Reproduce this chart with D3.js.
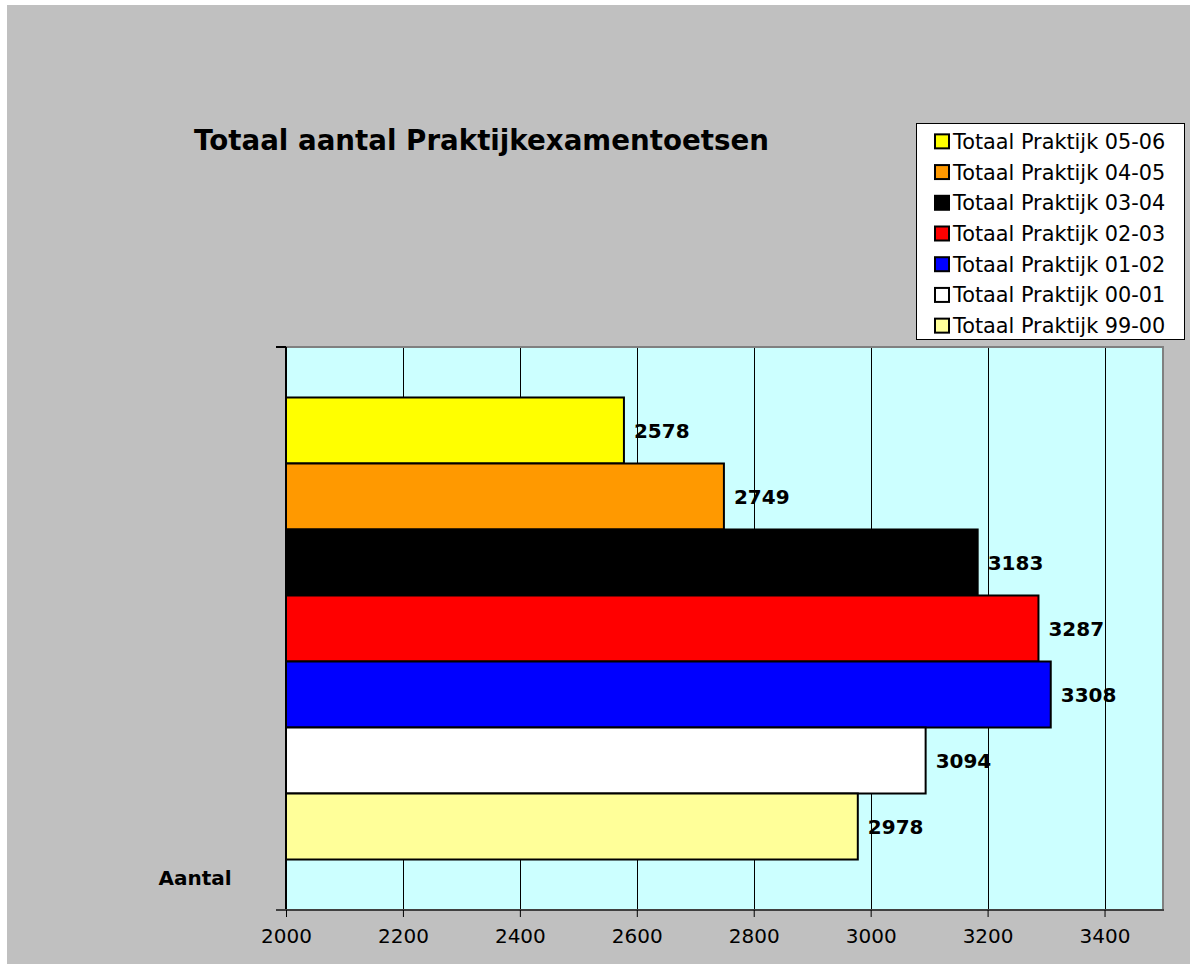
<!DOCTYPE html>
<html>
<head>
<meta charset="utf-8">
<script src="https://cdn.jsdelivr.net/npm/d3@7"></script>
<style>
  body { margin: 0; background: #fff; }
  svg { display: block; font-family: "DejaVu Sans", Verdana, sans-serif; }
</style>
</head>
<body>
<svg id="chart" width="1190" height="964"></svg>
<script>
// data, top bar first
var series = ["Totaal Praktijk 05-06", "Totaal Praktijk 04-05", "Totaal Praktijk 03-04",
              "Totaal Praktijk 02-03", "Totaal Praktijk 01-02", "Totaal Praktijk 00-01",
              "Totaal Praktijk 99-00"];
var values = [2578, 2749, 3183, 3287, 3308, 3094, 2978];
var colors = ["#FFFF00", "#FF9900", "#000000", "#FF0000", "#0000FF", "#FFFFFF", "#FFFF99"];
var xTicks = [2000, 2200, 2400, 2600, 2800, 3000, 3200, 3400];
var title = "Totaal aantal Praktijkexamentoetsen";
var category = "Aantal";

var svg = d3.select("#chart");

// chart background (white sliver left/top like the original)
svg.append("rect").attr("x", 7).attr("y", 5).attr("width", 1183).attr("height", 959)
    .attr("fill", "#C0C0C0");

var pLeft = 286, pTop = 347, pRight = 1163, pBottom = 910;

var x = d3.scaleLinear().domain([2000, 3500]).range([pLeft, pRight]);
var y = d3.scaleBand().domain(series).range([pTop, pBottom])
    .paddingInner(0).paddingOuter(0.765);

// plot area
svg.append("rect")
    .attr("x", pLeft).attr("y", pTop)
    .attr("width", pRight - pLeft).attr("height", pBottom - pTop)
    .attr("fill", "#CCFFFF");

// gridlines
svg.selectAll("line.grid").data(xTicks.slice(1)).enter().append("line")
    .attr("class", "grid")
    .attr("x1", function(d){ return Math.round(x(d)) + 0.5; })
    .attr("x2", function(d){ return Math.round(x(d)) + 0.5; })
    .attr("y1", pTop).attr("y2", pBottom)
    .attr("stroke", "#000").attr("stroke-width", 1);

// top and right border
svg.append("path")
    .attr("d", "M" + pLeft + "," + pTop + "H" + pRight + "V" + pBottom)
    .attr("fill", "none").attr("stroke", "#808080").attr("stroke-width", 2);

// bars
svg.selectAll("rect.bar").data(values).enter().append("rect")
    .attr("class", "bar")
    .attr("x", x(2000))
    .attr("y", function(d, i){ return y(series[i]); })
    .attr("width", function(d){ return x(d) - x(2000); })
    .attr("height", y.bandwidth())
    .attr("fill", function(d, i){ return colors[i]; })
    .attr("stroke", "#000").attr("stroke-width", 2);

// value labels
svg.selectAll("text.val").data(values).enter().append("text")
    .attr("class", "val")
    .attr("x", function(d){ return x(d) + 10; })
    .attr("y", function(d, i){ return y(series[i]) + y.bandwidth() / 2; })
    .attr("dy", "0.36em")
    .attr("font-size", 20).attr("font-weight", "bold")
    .text(function(d){ return d; });

// axes
svg.append("line").attr("x1", pLeft).attr("x2", pLeft).attr("y1", pTop).attr("y2", pBottom + 1)
    .attr("stroke", "#000").attr("stroke-width", 2);
svg.append("line").attr("x1", pLeft - 10).attr("x2", pRight + 1).attr("y1", pBottom).attr("y2", pBottom)
    .attr("stroke", "#404040").attr("stroke-width", 2);
svg.append("line").attr("x1", pLeft - 10).attr("x2", pLeft).attr("y1", pTop).attr("y2", pTop)
    .attr("stroke", "#000").attr("stroke-width", 2);

var xAxis = d3.axisBottom(x).tickValues(xTicks).tickSize(7).tickPadding(12)
    .tickFormat(d3.format("d"));
var gx = svg.append("g").attr("transform", "translate(0," + pBottom + ")").call(xAxis);
gx.select(".domain").remove();
gx.selectAll(".tick line").attr("stroke", "#000");
gx.selectAll(".tick text").attr("font-size", 20).attr("font-family", "DejaVu Sans").attr("fill", "#000");

// category label
svg.append("text").attr("x", 195).attr("y", 885).attr("text-anchor", "middle")
    .attr("font-size", 20).attr("font-weight", "bold").text(category);

// title
svg.append("text").attr("x", 194).attr("y", 150)
    .attr("font-size", 27.7).attr("font-weight", "bold").text(title);

// legend
var lg = svg.append("g");
lg.append("rect").attr("x", 916.5).attr("y", 123.5).attr("width", 268).attr("height", 216)
    .attr("fill", "#fff").attr("stroke", "#000").attr("stroke-width", 1);
var ly = d3.scaleBand().domain(series).range([126, 341]);
var items = lg.selectAll("g.item").data(series).enter().append("g")
    .attr("class", "item")
    .attr("transform", function(d){ return "translate(0," + (ly(d) + ly.bandwidth() / 2) + ")"; });
items.append("rect").attr("x", 935).attr("y", -7).attr("width", 14).attr("height", 14)
    .attr("fill", function(d, i){ return colors[i]; })
    .attr("stroke", "#000").attr("stroke-width", 2);
items.append("text").attr("x", 953).attr("dy", "0.36em").attr("font-size", 20.8)
    .text(function(d){ return d; });
</script>
</body>
</html>
